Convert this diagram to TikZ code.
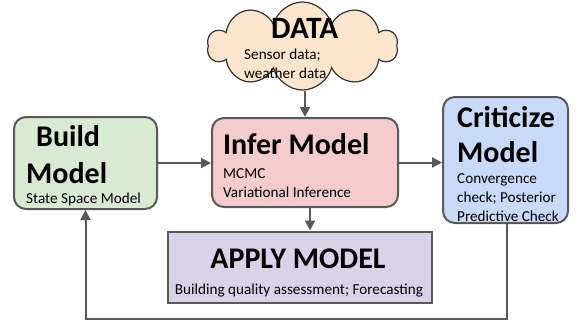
\documentclass[tikz,border=0pt]{standalone}
\usepackage{fontspec}
\setmainfont{Carlito}
\usetikzlibrary{shapes.symbols,arrows.meta}
\definecolor{bordergray}{HTML}{595959}
\definecolor{buildfill}{HTML}{D9EAD3}
\definecolor{inferfill}{HTML}{F4CCCC}
\definecolor{critfill}{HTML}{C9DAF8}
\definecolor{applyfill}{HTML}{D9D2E9}
\definecolor{datafill}{HTML}{FCE5CD}
\tikzset{
  box/.style={draw=bordergray, line width=2pt, rounded corners=12pt, inner sep=0pt},
  sqbox/.style={draw=bordergray, line width=2pt, inner sep=0pt},
  arr/.style={draw=bordergray, line width=2pt, -{Triangle[length=10pt,width=10pt]}},
  big/.style={font=\fontsize{30}{32}\selectfont\bfseries, anchor=base west, inner sep=0pt},
  small/.style={font=\fontsize{15.2}{19}\selectfont, anchor=base west, inner sep=0pt, align=left},
}
\begin{document}
\begin{tikzpicture}[x=1pt,y=-1pt]
\useasboundingbox (0,0) rectangle (577,322);
% boxes
\node[cloud, cloud puffs=10, cloud ignores aspect, draw=black!80, line width=1.2pt, fill=datafill, minimum width=190pt, minimum height=88pt, inner sep=0pt] (data) at (302.5,46) {};
\node[box, fill=buildfill, minimum width=143pt, minimum height=92pt] (build) at (85.5,163) {};
\node[box, fill=inferfill, minimum width=186pt, minimum height=89pt] (infer) at (305,162.5) {};
\node[box, fill=critfill, minimum width=125pt, minimum height=126pt] (crit) at (505.5,160) {};
\node[sqbox, fill=applyfill, minimum width=264pt, minimum height=71pt] (apply) at (300,267) {};
% texts (multi-line nodes are placed by the baseline of their last line)
\node[big, font=\fontsize{31}{32}\selectfont\bfseries] (datat) at (271,38) {DATA};
\node[small] (datas) at (244,78) {Sensor data;\\weather data};
\node[big] (buildt1) at (36,146) {Build};
\node[big] (buildt2) at (26,183) {Model};
\node[small] (builds) at (26,203) {State Space Model};
\node[big] (infert) at (223,154) {Infer Model};
\node[small] (infers) at (223,197) {MCMC\\Variational Inference};
\node[big] (critt1) at (457,127) {Criticize};
\node[big] (critt2) at (457,162) {Model};
\node[small] (crits) at (457,221.5) {Convergence\\check; Posterior\\Predictive Check};
\node[big, anchor=base] (applyt) at (298,268) {APPLY MODEL};
\node[small, anchor=base] (applys) at (299,294) {Building quality assessment; Forecasting};
% connectors
\draw[arr] (infer.north |- data.south) -- (infer.north);
\draw[arr] (build.east) -- (build.east -| infer.west);
\draw[arr] (infer.east) -- (infer.east -| crit.west);
\draw[arr] ([xshift=5pt]infer.south) -- ([xshift=5pt]infer.south |- apply.north);
\draw[arr] ([xshift=1.5pt]crit.south) -- ++(0,95) -| (build.south);
\end{tikzpicture}
\end{document}
